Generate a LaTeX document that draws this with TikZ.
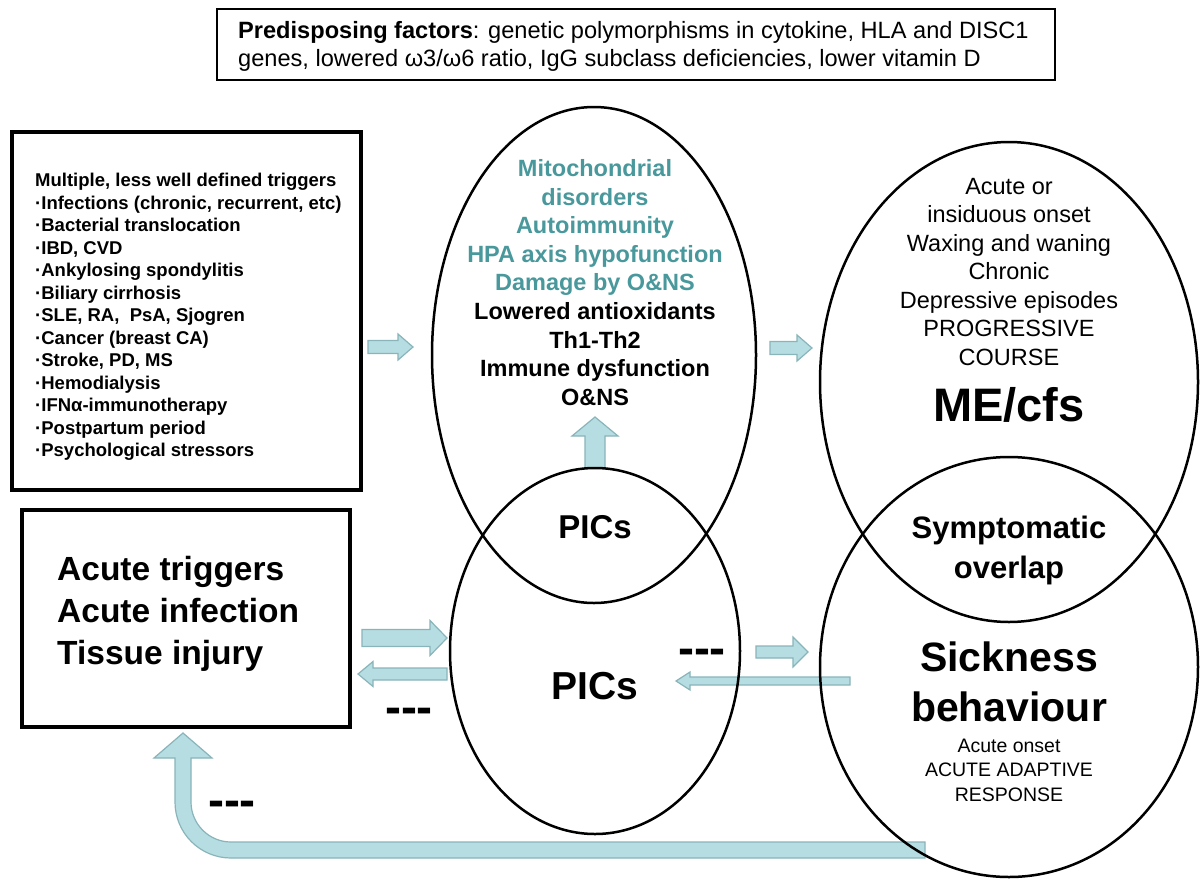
\documentclass[tikz,border=0pt]{standalone}
\usepackage{fontspec}
\setmainfont{Liberation Sans}
\usetikzlibrary{shapes.geometric}
\definecolor{tealtext}{RGB}{72,152,156}
\definecolor{arrowfill}{RGB}{182,222,226}
\definecolor{arrowline}{RGB}{136,180,186}
\begin{document}
\begin{tikzpicture}[x=1pt,y=-1pt,
  ell/.style={ellipse, draw, line width=2.5pt, inner sep=0pt},
  boxthick/.style={rectangle, draw, line width=4pt, inner sep=0pt},
  boxthin/.style={rectangle, draw, line width=2.5pt, inner sep=0pt},
  txt/.style={inner sep=0pt, align=center},
  arrowst/.style={fill=arrowfill, draw=arrowline, line width=1.2pt, line join=miter},
  dashtxt/.style={inner sep=0pt, anchor=base, font=\fontsize{48}{48}\selectfont\bfseries},
  pics/barrow/.style n args={4}{code={
    \path[arrowst] (0,-#2) -- ({#1-#4},-#2) -- ({#1-#4},-#3) -- (#1,0)
      -- ({#1-#4},#3) -- ({#1-#4},#2) -- (0,#2) -- cycle;
  }}
]
\useasboundingbox[fill=white] (0,0) rectangle (1200,879);

% anchor points of block arrows
\coordinate (a1) at (368,347);
\coordinate (a2) at (770,348);
\coordinate (a3) at (595,468);
\coordinate (a4) at (362,638);
\coordinate (a5) at (447,674);
\coordinate (a6) at (756,652);
\coordinate (a7) at (850,681);
\coordinate (u0) at (925,842);

% block arrows
\pic at (a1) {barrow={45}{6.5}{13}{15}};
\pic at (a2) {barrow={42}{6.5}{13}{15}};
\pic[rotate=90] at (a3) {barrow={51}{10}{23}{19}};
\pic at (a4) {barrow={85}{8.5}{17.5}{17}};
\pic[rotate=180] at (a5) {barrow={89}{6}{12.5}{15}};
\pic at (a6) {barrow={52}{6}{15}{15}};
\pic[rotate=180] at (a7) {barrow={174}{4}{9}{14}};

% feedback U-arrow
\path[arrowst] (u0) -- (231,842) .. controls (209,842) and (191,824) .. (191,802)
  -- (191,758) -- (212,758) -- (183,733) -- (154,758) -- (175,758) -- (175,802)
  .. controls (175,833) and (200,858) .. (231,858) -- (925,858) -- cycle;

% boxes
\node[boxthin, minimum width=838pt, minimum height=71pt] (topbox) at (636,44.5) {};
\node[boxthick, minimum width=349pt, minimum height=358pt] (trigbox) at (186.5,311) {};
\node[boxthick, minimum width=328pt, minimum height=217pt] (acutebox) at (186,618.5) {};

% ellipses
\node[ell, minimum width=324pt, minimum height=496pt] (upc) at (594,355) {};
\node[ell, minimum width=290pt, minimum height=366pt] (lowc) at (595,651) {};
\node[ell, minimum width=378pt, minimum height=480pt] (upr) at (1009,382) {};
\node[ell, minimum width=378pt, minimum height=420pt] (lowr) at (1009,667) {};

% texts
\node[txt, anchor=west, align=left, font=\fontsize{23.6}{28}\selectfont] (ttop) at (238,46)
  {\textbf{Predisposing factors}: genetic polymorphisms in cytokine, HLA and DISC1\\
   genes, lowered ω3/ω6 ratio, IgG subclass deficiencies, lower vitamin D};

\node[txt, anchor=west, align=left, font=\fontsize{18.5}{22.5}\selectfont\bfseries] (ttrig) at (35,317)
  {Multiple, less well defined triggers\\
   ·Infections (chronic, recurrent, etc)\\
   ·Bacterial translocation\\
   ·IBD, CVD\\
   ·Ankylosing spondylitis\\
   ·Biliary cirrhosis\\
   ·SLE, RA,\ \ PsA, Sjogren\\
   ·Cancer (breast CA)\\
   ·Stroke, PD, MS\\
   ·Hemodialysis\\
   ·IFNα-immunotherapy\\
   ·Postpartum period\\
   ·Psychological stressors};

\node[txt, anchor=west, align=left, font=\fontsize{33.5}{42}\selectfont\bfseries] (tacute) at (57,613.5)
  {Acute triggers\\ Acute infection\\ Tissue injury};

\node[txt, font=\fontsize{23.5}{28.6}\selectfont\bfseries] (tmid) at (595,282.5)
  {\textcolor{tealtext}{Mitochondrial}\\
   \textcolor{tealtext}{disorders}\\
   \textcolor{tealtext}{Autoimmunity}\\
   \textcolor{tealtext}{HPA axis hypofunction}\\
   \textcolor{tealtext}{Damage by O\&NS}\\
   Lowered antioxidants\\
   Th1-Th2\\
   Immune dysfunction\\
   O\&NS};

\node[txt, font=\fontsize{33}{33}\selectfont\bfseries] (picup) at (595,527) {PICs};
\node[txt, font=\fontsize{39}{39}\selectfont\bfseries] (piclow) at (595,686) {PICs};

\node[txt, font=\fontsize{23.5}{28.5}\selectfont] (tme1) at (1009,272)
  {Acute or\\ insiduous onset\\ Waxing and waning\\ Chronic\\ Depressive episodes\\ PROGRESSIVE\\ COURSE};
\node[txt, font=\fontsize{47}{47}\selectfont\bfseries] (tme) at (1009,405) {ME/cfs};

\node[txt, font=\fontsize{31}{40}\selectfont\bfseries] (tsym) at (1009,550) {Symptomatic\\ overlap};
\node[txt, font=\fontsize{41}{50}\selectfont\bfseries] (tsick) at (1009,681.5) {Sickness\\ behaviour};
\node[txt, font=\fontsize{19.5}{24.5}\selectfont] (tsick2) at (1009,770)
  {Acute onset\\ ACUTE ADAPTIVE\\ RESPONSE};

% negative-feedback marks
\node[dashtxt] (d1) at (409,723) {-{}-{}-};
\node[dashtxt] (d2) at (702,664) {-{}-{}-};
\node[dashtxt] (d3) at (232,816) {-{}-{}-};
\end{tikzpicture}
\end{document}
